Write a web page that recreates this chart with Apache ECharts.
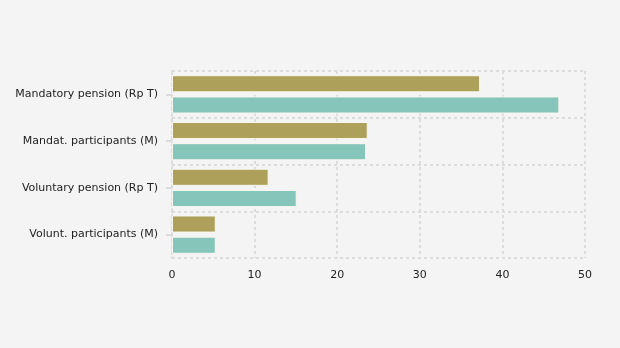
<!DOCTYPE html>
<html>
<head>
<meta charset="utf-8">
<script src="https://cdn.jsdelivr.net/npm/echarts@6/dist/echarts.min.js"></script>
<style>
  html, body { margin: 0; padding: 0; background: #f4f4f4; }
  #chart { width: 620px; height: 348px; }
</style>
</head>
<body>
<div id="chart"></div>
<script>
// Pension indicators, two periods side by side
const categories = ['Mandatory pension (Rp T)', 'Mandat. participants (M)', 'Voluntary pension (Rp T)', 'Volunt. participants (M)'];
const seriesA = [37.3, 23.7, 11.7, 5.3];
const seriesB = [46.9, 23.5, 15.1, 5.3];
const xTicks = { min: 0, max: 50, interval: 10 };

const chart = echarts.init(document.getElementById('chart'));
const gridLine = { show: true, lineStyle: { color: '#dcdcdc', type: [3, 3], width: 2 } };

chart.setOption({
  backgroundColor: '#f4f4f4',
  textStyle: { fontFamily: 'DejaVu Sans' },
  grid: { left: 172, right: 35, top: 71, bottom: 90, containLabel: false },
  xAxis: {
    type: 'value',
    min: xTicks.min, max: xTicks.max, interval: xTicks.interval,
    axisLine: { show: false },
    axisTick: { show: false },
    axisLabel: { color: '#222', fontSize: 11, margin: 12 },
    splitLine: gridLine
  },
  yAxis: {
    type: 'category',
    data: categories,
    inverse: true,
    axisLine: { show: true, lineStyle: { color: '#dcdcdc', type: [3, 3], width: 2 } },
    axisTick: { show: true, alignWithLabel: true, length: 6, lineStyle: { color: '#dcdcdc', width: 2 } },
    axisLabel: { color: '#222', fontSize: 11, margin: 14 },
    splitLine: gridLine
  },
  series: [
    {
      type: 'bar', data: seriesA,
      barGap: '24%', barCategoryGap: '18%',
      itemStyle: { color: '#ada05a', borderColor: '#f8f8f0', borderWidth: 1 }
    },
    {
      type: 'bar', data: seriesB,
      itemStyle: { color: '#86c5b9', borderColor: '#f8f8f0', borderWidth: 1 }
    }
  ]
});
</script>
</body>
</html>
